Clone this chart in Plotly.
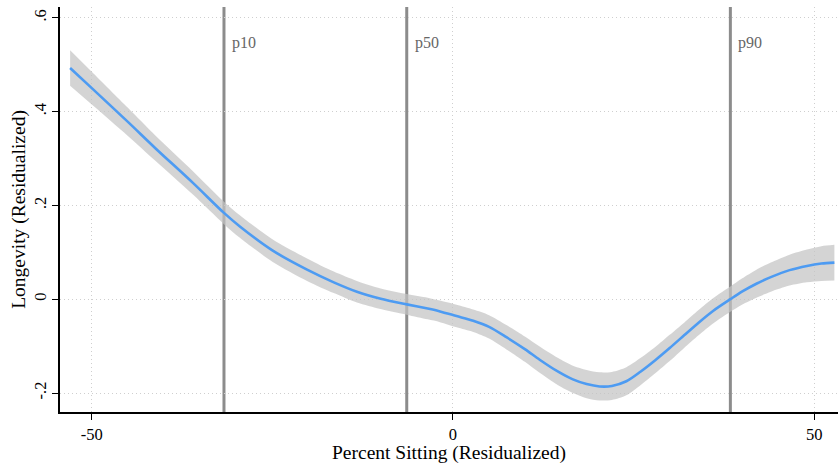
import plotly.graph_objects as go

# Data
x_vals = [-53.0, -50.0, -45.0, -41.2, -36.0, -31.7, -29.5, -25.0, -20.2, -16.5, -13.3, -10.0, -6.4, -3.5, -1.8,
          0.5, 2.8, 5.0, 7.4, 10.0, 12.0, 14.5, 16.6, 18.5, 20.3, 22.0, 24.0, 26.0, 28.0, 30.0, 32.0,
          34.0, 36.0, 38.4, 40.0, 42.0, 44.0, 46.6, 49.0, 51.0, 52.8]
y_fit = [0.493, 0.450, 0.378, 0.322, 0.248, 0.184, 0.155, 0.104, 0.063, 0.036, 0.016, 0.001, -0.011, -0.020, -0.026,
         -0.036, -0.046, -0.059, -0.081, -0.107, -0.129, -0.154, -0.171, -0.181, -0.186, -0.185, -0.175, -0.154, -0.130, -0.104, -0.077,
         -0.050, -0.025, 0.000, 0.016, 0.033, 0.047, 0.062, 0.071, 0.076, 0.078]
ci_half = [0.038, 0.035, 0.030, 0.027, 0.025, 0.024, 0.024, 0.024, 0.024, 0.023, 0.023, 0.022, 0.022, 0.023, 0.023,
           0.024, 0.024, 0.025, 0.026, 0.027, 0.028, 0.029, 0.029, 0.030, 0.030, 0.030, 0.030, 0.029, 0.028, 0.028, 0.027,
           0.027, 0.027, 0.027, 0.028, 0.030, 0.031, 0.033, 0.035, 0.037, 0.038]
ci_lo = [y - h for y, h in zip(y_fit, ci_half)]
ci_hi = [y + h for y, h in zip(y_fit, ci_half)]

pct_names = ["p10", "p50", "p90"]
pct_vals = [-31.7, -6.4, 38.4]

x_ticks = [-50, 0, 50]
x_ticktext = ["-50", "0", "50"]
y_ticks = [-0.2, 0, 0.2, 0.4, 0.6]
y_ticktext = ["-.2", "0", ".2", ".4", ".6"]

FONT = "Liberation Serif"

fig = go.Figure()

fig.add_trace(go.Scatter(x=x_vals, y=ci_hi, mode="lines", line=dict(width=0, shape="spline", smoothing=0.8),
                         hoverinfo="skip", showlegend=False))
fig.add_trace(go.Scatter(x=x_vals, y=ci_lo, mode="lines", line=dict(width=0, shape="spline", smoothing=0.8),
                         fill="tonexty", fillcolor="rgba(195,195,195,0.72)",
                         hoverinfo="skip", showlegend=False))
fig.add_trace(go.Scatter(x=x_vals, y=y_fit, mode="lines",
                         line=dict(color="#4d9bf2", width=2.6, shape="spline", smoothing=0.8),
                         showlegend=False))

for name, v in zip(pct_names, pct_vals):
    fig.add_shape(type="line", xref="x", yref="paper", x0=v, x1=v, y0=0, y1=1,
                  line=dict(color="#8c8c8c", width=3), layer="below")
    fig.add_annotation(x=v, xref="x", y=0.547, yref="y", text=name, showarrow=False,
                       xanchor="left", yanchor="middle", xshift=6,
                       font=dict(family=FONT, size=16, color="#666666"))

fig.update_layout(
    width=838, height=464,
    margin=dict(l=60, r=0, t=7, b=52),
    plot_bgcolor="white", paper_bgcolor="white",
    font=dict(family=FONT, size=17, color="black"),
    xaxis=dict(range=[-54.4, 53.3], tickvals=x_ticks, ticktext=x_ticktext,
               showline=True, linecolor="black", linewidth=1.5, ticks="outside",
               ticklen=6, tickcolor="black", showgrid=True, gridcolor="#cfcfcf",
               griddash="1px,3px", gridwidth=1, zeroline=False,
               title=dict(text="Percent Sitting (Residualized)", font=dict(size=19.5), standoff=0),
               tickfont=dict(size=16.5)),
    yaxis=dict(range=[-0.2405, 0.623], tickvals=y_ticks, ticktext=y_ticktext,
               showline=True, linecolor="black", linewidth=1.5, ticks="outside",
               ticklen=6, tickcolor="black", showgrid=True, gridcolor="#cfcfcf",
               griddash="1px,3px", gridwidth=1, zeroline=False, tickangle=-90,
               title=dict(text="Longevity (Residualized)", font=dict(size=19.5), standoff=0),
               tickfont=dict(size=16.5)),
)

fig.write_html("out.html", config={"displayModeBar": False},
               post_script="document.body.style.margin='0';document.body.style.overflow='hidden';")
